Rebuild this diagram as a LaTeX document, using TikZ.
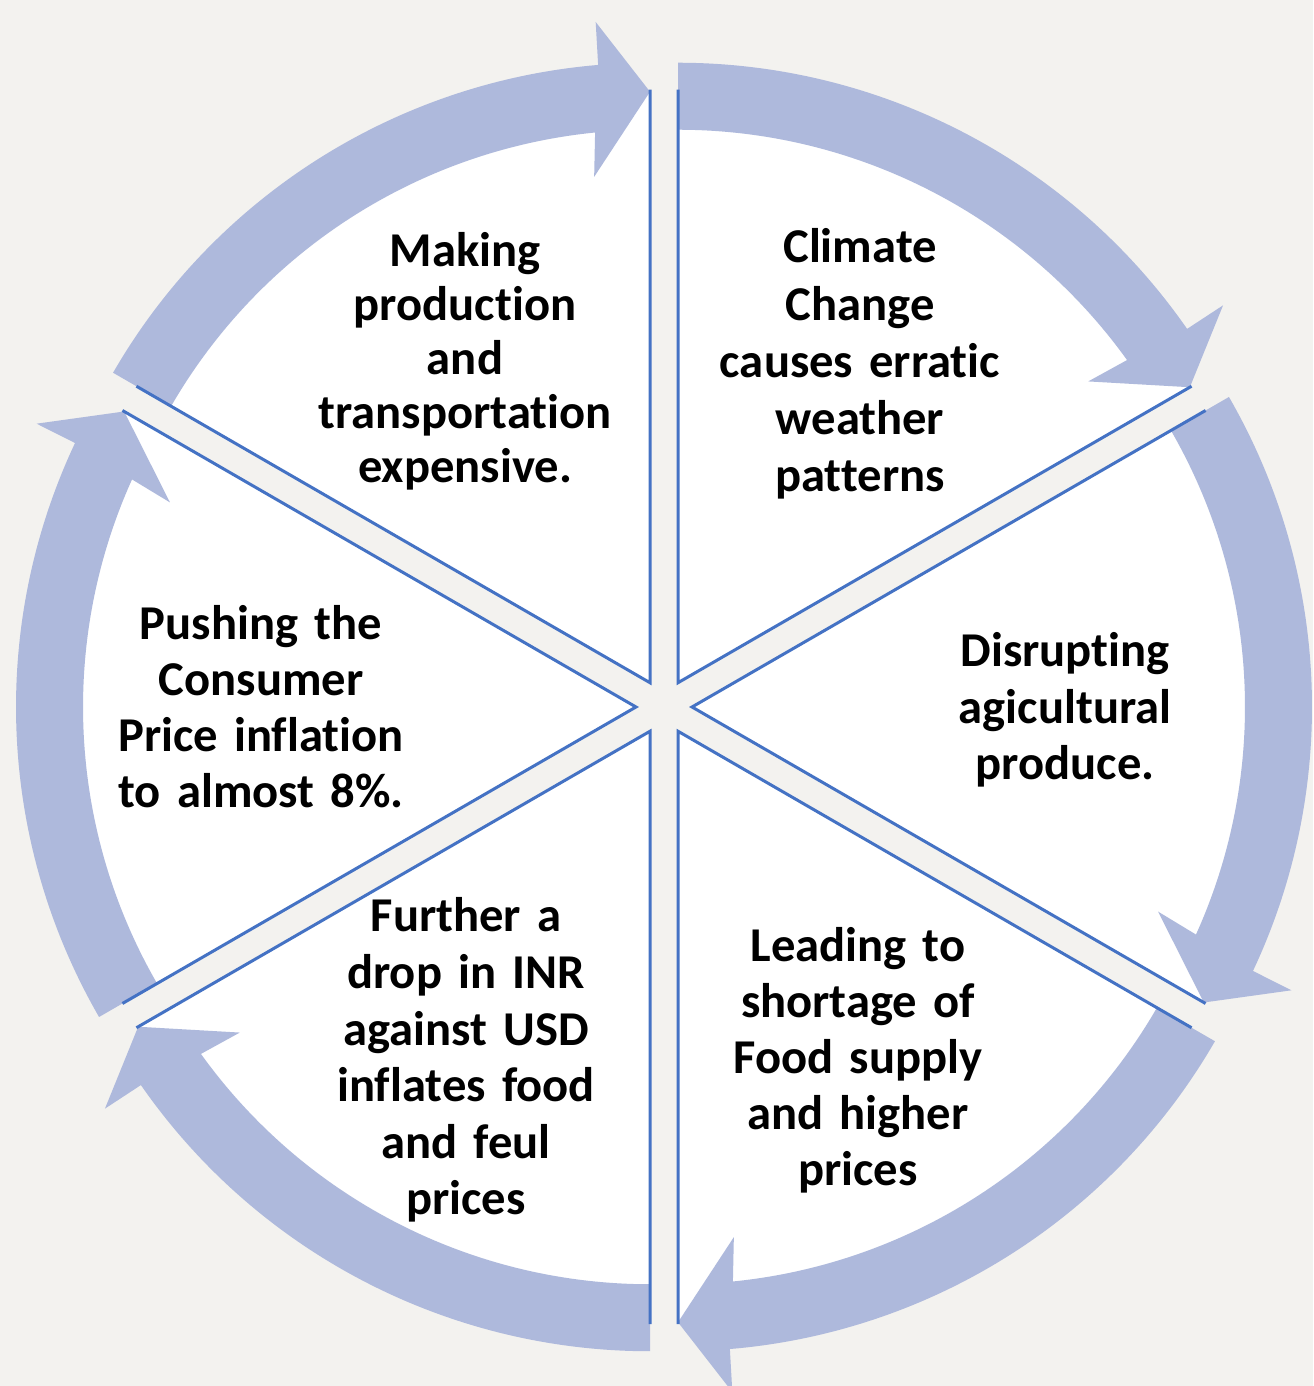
\documentclass[tikz,border=0pt]{standalone}
\usepackage{fontspec}
\setmainfont{Carlito}[Ligatures={NoCommon,NoContextual}]
\usetikzlibrary{calc}
\definecolor{bgcol}{HTML}{F3F2EF}
\definecolor{arrowcol}{HTML}{AEB9DC}
\definecolor{edgecol}{HTML}{4472C4}
\tikzset{
  wedgefill/.style={fill=white},
  ringarrow/.style={fill=arrowcol},
  wedgeedge/.style={draw=edgecol, line width=1.5pt, line join=miter},
  txt/.style={align=center, text width=200pt, inner sep=0pt, anchor=base, text=black},
}
\newcommand{\txtfont}[1]{\fontsize{24.3pt}{#1}\selectfont\bfseries}
\begin{document}
\begin{tikzpicture}[x=0.5pt,y=0.5pt]
\useasboundingbox (0,0) rectangle (1313,1386);
\fill[bgcol] (0,0) rectangle (1313,1386);
\coordinate (C) at (664,679);
% white wedges
\foreach \t in {60,0,-60,-120,180,120}{
  \coordinate (V) at ($(C)+(\t:28)$);
  \fill[wedgefill] (V) -- ($(V)+(\t+30:593)$) arc[start angle=\t+30, end angle=\t-30, radius=593] -- cycle;
}
% ring arrows
\foreach \t in {60,0,-60,-120,180,120}{
  \coordinate (V) at ($(C)+(\t:28)$);
  \fill[ringarrow] ($(V)+(\t+30:620)$) arc[start angle=\t+30, end angle=\t-25.2, radius=620]
    -- ($(V)+(\t-25.3:663)$) -- ($(V)+(\t-30:591)$) -- ($(V)+(\t-23.7:509)$)
    -- ($(V)+(\t-24.3:553)$) arc[start angle=\t-24.3, end angle=\t+30, radius=553] -- cycle;
}
% wedge edges
\foreach \t in {60,0,-60,-120,180,120}{
  \coordinate (V) at ($(C)+(\t:28)$);
  \draw[wedgeedge] ($(V)+(\t+30:593)$) -- (V) -- ($(V)+(\t-30:593)$);
}
% texts
\node[txt, font=\txtfont{28.6pt}] (t1) at (860,1123) {Climate\\Change\\causes erratic\\weather\\patterns};
\node[txt, font=\txtfont{28.2pt}] (t2) at (1065,719) {Disrupting\\agicultural\\produce.};
\node[txt, font=\txtfont{27.9pt}] (t3) at (858,424) {Leading to\\shortage of\\Food supply\\and higher\\prices};
\node[txt, font=\txtfont{28.3pt}] (t4) at (466,454) {Further a\\drop in INR\\against USD\\inflates food\\and feul\\prices};
\node[txt, font=\txtfont{28pt}] (t5) at (261,746) {Pushing the\\Consumer\\Price inflation\\to almost 8\%.};
\node[txt, font=\txtfont{27pt}] (t6) at (465,1119) {Making\\production\\and\\transportation\\expensive.};
\end{tikzpicture}
\end{document}
